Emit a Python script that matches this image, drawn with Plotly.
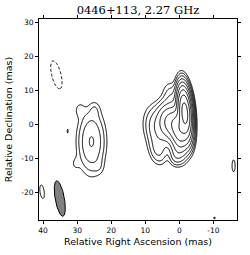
import numpy as np
import plotly.graph_objects as go

# ---- model components (mas, relative amplitude, sigma across/along PA, PA deg) ----
comp_x    = [-1.6,  0.0,  3.0,  6.0,  6.3,  0.5,  2.0,  1.4,  25.8, 29.3, 24.8, 30.6, 23.6, 32.8, 40.3, -15.9, -10.3]
comp_y    = [ 3.6, -1.5,  0.5, -1.0, -7.5, -7.5,  7.0, -9.8, -5.0,  4.3,  4.3, -11.5, -12.3, -1.9, -19.7, -12.1, -27.4]
comp_amp  = [1.00, 0.30, 0.10, 0.025, 0.012, 0.03, 0.012, 0.006, 0.0242, 0.0036, 0.0036, 0.0026, 0.0026, 0.0032, 0.0044, 0.0044, 0.0034]
comp_sx   = [1.0,  1.4,  1.6,  2.2,  1.5,  1.3,  1.6,  1.0,  2.2,  1.0,  1.0,  1.0,  1.0,  0.3,  0.67, 0.5,  0.4]
comp_sy   = [3.6,  3.0,  2.8,  3.5,  2.5,  2.2,  3.0,  1.5,  5.0,  1.5,  1.5,  1.5,  1.5,  1.1,  2.2,  1.9,  0.5]
comp_pa   = [5.0, 10.0, 10.0, 10.0, 10.0, 10.0, 10.0,  0.0,  0.0,  0.0,  0.0,  0.0,  0.0,  0.0,  8.0,  0.0,  0.0]

neg_x, neg_y, neg_amp, neg_sx, neg_sy, neg_pa = [36.1], [14.6], [-0.012], [0.8], [2.5], [14.0]

lowest_level = 0.0029
n_levels = 9

beam_x, beam_y, beam_maj, beam_min, beam_pa = 35.1, -21.7, 10.6, 2.7, 10.0

title_text = "0446+113, 2.27 GHz"
x_ticks = [40, 30, 20, 10, 0, -10]
y_ticks = [-20, -10, 0, 10, 20, 30]

# ---- build image ----
gx = np.arange(-20, 44.01, 0.2)
gy = np.arange(-31, 34.01, 0.2)
X, Y = np.meshgrid(gx, gy)

def add(img, xs, ys, amps, sxs, sys_, pas):
    for x0, y0, a, sx, sy, pa in zip(xs, ys, amps, sxs, sys_, pas):
        t = np.deg2rad(pa)
        dx, dy = X - x0, Y - y0
        along = dx * np.sin(t) + dy * np.cos(t)
        across = dx * np.cos(t) - dy * np.sin(t)
        img += a * np.exp(-(along**2 / (2 * sy**2) + across**2 / (2 * sx**2)))
    return img

img = np.zeros_like(X)
img = add(img, comp_x, comp_y, comp_amp, comp_sx, comp_sy, comp_pa)
img = add(img, neg_x, neg_y, neg_amp, neg_sx, neg_sy, neg_pa)

zpos = np.log2(np.clip(img, 1e-9, None) / lowest_level)
zneg = np.log2(np.clip(-img, 1e-9, None) / lowest_level)

black = [[0, "black"], [1, "black"]]
fig = go.Figure()
fig.add_trace(go.Contour(x=gx, y=gy, z=zpos, colorscale=black, showscale=False,
                         contours=dict(start=0, end=n_levels - 1, size=1, coloring="lines"),
                         line=dict(width=1, smoothing=1), hoverinfo="skip"))
fig.add_trace(go.Contour(x=gx, y=gy, z=zneg, colorscale=black, showscale=False,
                         contours=dict(start=0, end=0.5, size=1, coloring="lines"),
                         line=dict(width=1, dash="3px,2px", smoothing=1), hoverinfo="skip"))

# beam ellipse
th = np.linspace(0, 2 * np.pi, 100)
t = np.deg2rad(beam_pa)
a_ = beam_maj / 2 * np.cos(th)
b_ = beam_min / 2 * np.sin(th)
bx = beam_x + a_ * np.sin(t) + b_ * np.cos(t)
by = beam_y + a_ * np.cos(t) - b_ * np.sin(t)
fig.add_trace(go.Scatter(x=bx, y=by, mode="lines", fill="toself", fillcolor="#808080",
                         line=dict(color="black", width=1), hoverinfo="skip", showlegend=False))

axis_common = dict(showgrid=False, zeroline=False, showline=True, linecolor="black", linewidth=1,
                   mirror="ticks", ticks="outside", ticklen=3, tickcolor="black", tickwidth=1,
                   tickfont=dict(family="DejaVu Sans", size=7.5, color="black"),
                   title_font=dict(family="DejaVu Sans", size=9.5, color="black"))
fig.update_xaxes(range=[41.2, -16.9], tickvals=x_ticks, ticktext=[str(v) for v in x_ticks],
                 title_text="Relative Right Ascension (mas)", title_standoff=4, **axis_common)
fig.update_yaxes(range=[-28.0, 31.0], tickvals=y_ticks, ticktext=[str(v) for v in y_ticks],
                 title_text="Relative Declination (mas)", title_standoff=6, **axis_common)
fig.update_layout(width=250, height=255, margin=dict(l=37, r=9, t=19, b=32),
                  plot_bgcolor="white", paper_bgcolor="white", showlegend=False,
                  title=dict(text=title_text, x=0.5, xref="paper", y=1 - 9.5 / 255, yref="container",
                             xanchor="center", yanchor="middle",
                             font=dict(family="DejaVu Serif", size=11.5, color="black")))
fig.write_html("out.html", config={"displayModeBar": False, "staticPlot": True},
               post_script="document.body.style.margin='0';document.body.style.overflow='hidden';")
